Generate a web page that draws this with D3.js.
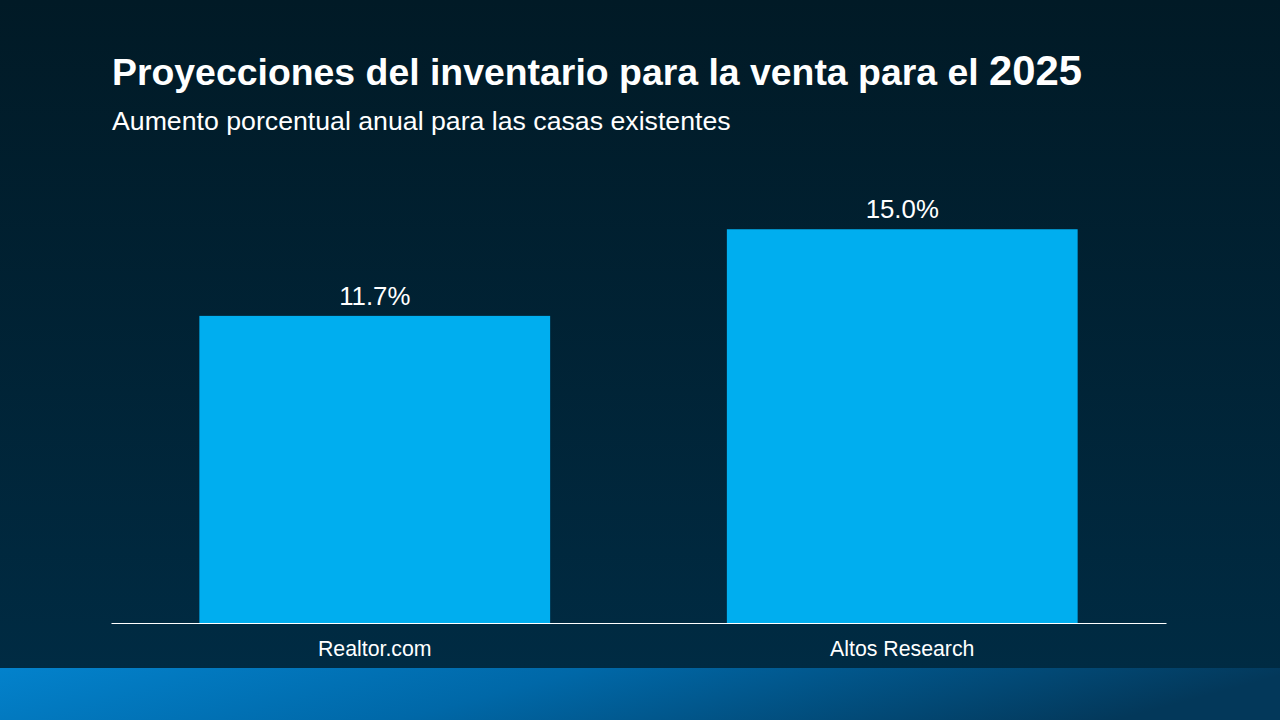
<!DOCTYPE html>
<html><head><meta charset="utf-8">
<script src="https://cdn.jsdelivr.net/npm/d3@7"></script>
<style>html,body{margin:0;padding:0;background:#011c2b;}svg{display:block;font-family:"Liberation Sans",Arial,sans-serif;}</style>
</head><body>
<svg id="c" width="1280" height="720"></svg>
<script>
const categories = ["Realtor.com", "Altos Research"];
const values = [11.7, 15.0];
const valueLabels = ["11.7%", "15.0%"];
const titleText = "Proyecciones del inventario para la venta para el ";
const titleYear = "2025";
const subtitleText = "Aumento porcentual anual para las casas existentes";

const svg = d3.select("#c");
const defs = svg.append("defs");
const bg = defs.append("linearGradient").attr("id","bg").attr("x1",0).attr("y1",0).attr("x2",0).attr("y2",1);
bg.append("stop").attr("offset","0%").attr("stop-color","#011a26");
bg.append("stop").attr("offset","100%").attr("stop-color","#002b43");
const band = defs.append("linearGradient").attr("id","band").attr("x1",0).attr("y1",0).attr("x2",1).attr("y2",0.15);
band.append("stop").attr("offset","0%").attr("stop-color","#0382cc");
band.append("stop").attr("offset","45%").attr("stop-color","#0068a8");
band.append("stop").attr("offset","100%").attr("stop-color","#03385a");

svg.append("rect").attr("width",1280).attr("height",668).attr("fill","url(#bg)");
svg.append("rect").attr("y",668).attr("width",1280).attr("height",52).attr("fill","url(#band)");

const x = d3.scaleBand().domain(categories).range([111,1166]).paddingInner(0.335).paddingOuter(0.1675);
const y = d3.scaleLinear().domain([0,16]).range([623, 623 - 16*26.25]);

svg.selectAll("rect.bar").data(categories).join("rect").attr("class","bar")
  .attr("x",d=>x(d)).attr("width",x.bandwidth())
  .attr("y",(d,i)=>y(values[i])).attr("height",(d,i)=>y(0)-y(values[i]))
  .attr("fill","#00aeef");

svg.selectAll("text.val").data(categories).join("text").attr("class","val")
  .attr("x",d=>x(d)+x.bandwidth()/2).attr("y",(d,i)=>y(values[i])-11)
  .attr("text-anchor","middle").attr("fill","#fff").attr("font-size",25.8)
  .text((d,i)=>valueLabels[i]);

const xAxis = svg.append("g").attr("transform","translate(0,623)")
  .call(d3.axisBottom(x).tickSize(0).tickPadding(18));
xAxis.select(".domain").attr("stroke","#fff").attr("stroke-width",1.2);
xAxis.selectAll("text").attr("fill","#fff").attr("font-size",21.3).attr("font-family","Liberation Sans, Arial, sans-serif");

const t = svg.append("text").attr("x",112).attr("y",85).attr("fill","#fff").attr("font-weight","bold").attr("font-size",37.4);
t.append("tspan").text(titleText);
t.append("tspan").attr("font-size",41.8).text(titleYear);

svg.append("text").attr("x",112).attr("y",130).attr("fill","#fff").attr("font-size",26.7).text(subtitleText);
</script>
</body></html>
